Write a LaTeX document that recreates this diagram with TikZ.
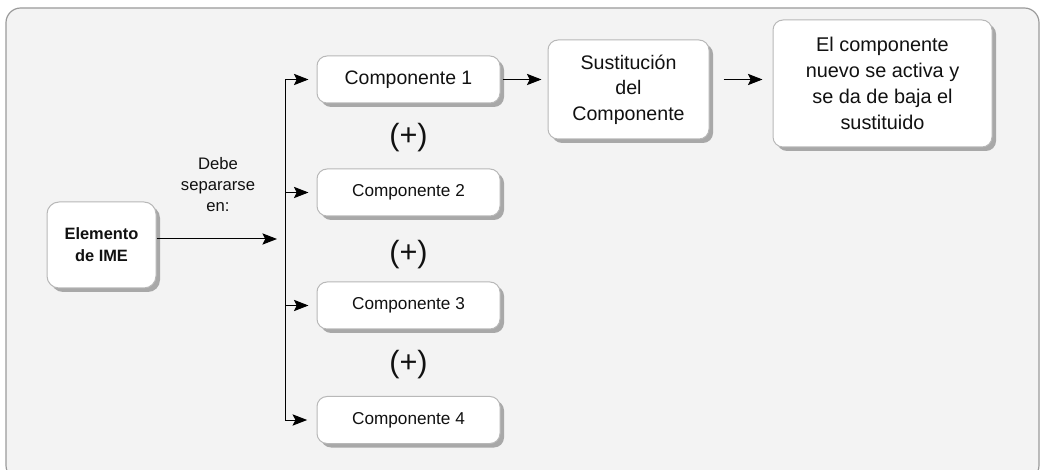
\documentclass[tikz,border=0pt]{standalone}
\usepackage{fontspec}
\setmainfont{Liberation Sans}
\usetikzlibrary{arrows.meta,shadows}
\definecolor{framefill}{HTML}{F3F3F3}
\definecolor{framedraw}{HTML}{9A9A9A}
\definecolor{boxdraw}{HTML}{B8B8B8}
\definecolor{shadowc}{HTML}{A8A8A8}
\definecolor{txt}{HTML}{111111}
\tikzset{
  boxnode/.style={draw=boxdraw, line width=0.75pt, fill=white, rounded corners=7.5pt,
    align=center, text=txt, inner sep=2pt,
    drop shadow={shadow xshift=3pt, shadow yshift=-3pt, fill=shadowc, opacity=1}},
  compbox/.style={boxnode, minimum width=137.25pt, minimum height=35.25pt},
  arr/.style={line width=0.75pt, -{Stealth[length=11pt,width=8.5pt,inset=2.2pt]}},
  plain/.style={line width=0.75pt},
  plus/.style={font=\fontsize{23}{26}\selectfont, text=txt},
}
\begin{document}
\begin{tikzpicture}[x=0.75pt,y=-0.75pt]
\useasboundingbox (0,0) rectangle (1043,470);
\begin{scope}
\clip (0,0) rectangle (1043,470);
\draw[fill=framefill, draw=framedraw, line width=0.9pt, rounded corners=11pt] (6,8) rectangle (1039,480);
\end{scope}

\node[boxnode, rounded corners=9pt, minimum width=81.75pt, minimum height=64.5pt,
  font=\bfseries\fontsize{12.3}{16.5}\selectfont] (elem) at (101.5,245) {Elemento\\de IME};

\node[compbox, font=\fontsize{14.6}{17}\selectfont] (c1) at (408.5,79.5) {Componente 1};
\node[compbox, font=\fontsize{12.9}{15}\selectfont] (c2) at (408.5,192.5) {Componente 2};
\node[compbox, font=\fontsize{12.9}{15}\selectfont] (c3) at (408.5,305.5) {Componente 3};
\node[compbox, font=\fontsize{12.9}{15}\selectfont] (c4) at (408.5,420) {Componente 4};

\node[boxnode, minimum width=120.75pt, minimum height=74.25pt,
  font=\fontsize{14.7}{19}\selectfont] (sust) at (628.5,89.5) {Sustitución\\del\\Componente};
\node[boxnode, minimum width=164.25pt, minimum height=95.25pt,
  font=\fontsize{14.9}{19.5}\selectfont] (el) at (882.5,83.5) {El componente\\nuevo se activa y\\se da de baja el\\sustituido};

\node[plus] (p1) at (408.5,138) {(+)};
\node[plus] (p2) at (408.5,255) {(+)};
\node[plus] (p3) at (408.5,365) {(+)};

\node[align=center, text=txt, font=\fontsize{12.5}{15.75}\selectfont] (lbl) at (218,185) {Debe\\separarse\\en:};

\coordinate (bus) at (285,0);
\coordinate (jin) at (277,239);
\draw[arr] (elem.east |- jin) -- (jin);
\draw[plain] (bus |- c1) -- (bus |- c4);
\draw[arr, shorten >=6pt] (bus |- c1) -- (c1.west);
\draw[arr, shorten >=6pt] (bus |- c2) -- (c2.west);
\draw[arr, shorten >=6pt] (bus |- c3) -- (c3.west);
\draw[arr, shorten >=7pt] (bus |- c4) -- (c4.west);
\draw[arr, shorten <=1.5pt, shorten >=4.5pt] (c1.east) -- (c1.east -| sust.west);
\draw[arr, shorten <=10.5pt, shorten >=7.5pt] (sust.east |- c1) -- (el.west |- c1);
\end{tikzpicture}
\end{document}
